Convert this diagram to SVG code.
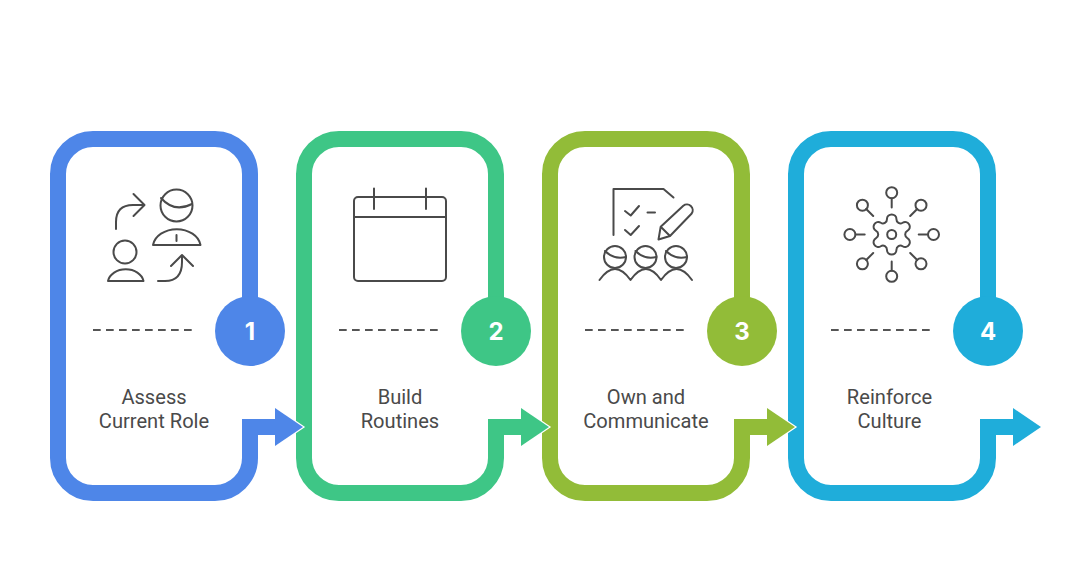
<svg xmlns="http://www.w3.org/2000/svg" width="1077" height="566" viewBox="0 0 1077 566">
<style>
.frame{fill:none;stroke-width:16;stroke-linejoin:miter}
.dash{fill:none;stroke:#555;stroke-width:2;stroke-dasharray:7.7 5.3}
.ic{fill:none;stroke:#4a4a4a;stroke-width:2;stroke-linecap:round;stroke-linejoin:round}
.lab{font-family:Roboto,"Liberation Sans",sans-serif;font-size:20.1px;fill:#4a4a4a;text-anchor:middle}
.num{font-family:Inter,"Liberation Sans",sans-serif;font-size:24px;font-weight:700;fill:#fff;text-anchor:middle}
.head{stroke:#fff;stroke-width:2.4;stroke-linejoin:miter;paint-order:stroke}
.stem{fill:none;stroke-width:16;stroke-linejoin:miter}
.blue{stroke:#4e86e8}.bluef{fill:#4e86e8}
.green{stroke:#3ec686}.greenf{fill:#3ec686}
.olive{stroke:#92bc38}.olivef{fill:#92bc38}
.cyan{stroke:#1fadda}.cyanf{fill:#1fadda}
</style>
<defs>
<path id="fr" d="M250 300V174A35 35 0 0 0 215 139H93A35 35 0 0 0 58 174V458A35 35 0 0 0 93 493H215A35 35 0 0 0 250 458V427"/>
<path id="gear" d="M-4.750 -15.320A4.750 4.750 0 1 1 4.750 -15.320A4 4 0 0 0 10.890 -11.770A4.750 4.750 0 1 1 15.640 -3.550A4 4 0 0 0 15.640 3.550A4.750 4.750 0 1 1 10.890 11.770A4 4 0 0 0 4.750 15.320A4.750 4.750 0 1 1 -4.750 15.320A4 4 0 0 0 -10.890 11.770A4.750 4.750 0 1 1 -15.640 3.550A4 4 0 0 0 -15.640 -3.550A4.750 4.750 0 1 1 -10.890 -11.770A4 4 0 0 0 -4.750 -15.320Z"/>
</defs>

<g id="node-1">
<use href="#fr" class="frame blue"/>
<circle cx="250" cy="331" r="35" class="bluef"/>
<text x="250" y="339.500" class="num">1</text>
<path d="M93 330H192" class="dash"/>
<text x="154" y="404" class="lab">Assess</text>
<text x="154" y="428" class="lab">Current Role</text>
<g class="ic">
<circle cx="176.500" cy="205.500" r="16"/>
<path d="M161 198Q174 213 192 204"/>
<path d="M153 245A24 18.500 0 0 1 200.500 245Z"/>
<path d="M176.500 235V241"/>
<circle cx="125" cy="252" r="11.500"/>
<path d="M108 281A18 14 0 0 1 143.500 281Z"/>
<path d="M116 229V222Q116 205 133 205H144M133.500 194L144.500 205L133.500 216"/>
<path d="M158 281H165Q182 281 182 262V255M171 266L182 255L193 266"/>
</g>
</g>

<g id="node-2">
<use href="#fr" transform="translate(246 0)" class="frame green"/>
<circle cx="496" cy="331" r="35" class="greenf"/>
<text x="496" y="339.500" class="num">2</text>
<path d="M339 330H438" class="dash"/>
<text x="400" y="404" class="lab">Build</text>
<text x="400" y="428" class="lab">Routines</text>
<g class="ic">
<rect x="354" y="197" width="92" height="84" rx="4"/>
<path d="M354 217H446M374 188.500V209M426 188.500V209"/>
</g>
</g>

<g id="node-3">
<use href="#fr" transform="translate(492 0)" class="frame olive"/>
<circle cx="742" cy="331" r="35" class="olivef"/>
<text x="742" y="339.500" class="num">3</text>
<path d="M585 330H684" class="dash"/>
<text x="646" y="404" class="lab">Own and</text>
<text x="646" y="428" class="lab">Communicate</text>
<g class="ic">
<path d="M613.500 235V189H663.500L673.500 197.500"/>
<path d="M625 211L630.700 215.500L639 206M647.500 212.500H655M625 230L630.700 235L639 226"/>
<path d="M658.500 239.500L660.700 226.700L683.300 205.700A5.800 5.800 0 0 1 691.700 213.500L670 236ZM660.700 226.700L670 236"/>
<circle cx="615" cy="257" r="11"/><circle cx="645.500" cy="257" r="11"/><circle cx="676" cy="257" r="11"/>
<path d="M605 251Q614 260 626 257M635.500 251Q644.500 260 656.500 257M666 251Q675 260 687 257"/>
<path d="M599.500 280Q615 258 630.500 280Q646 258 661 280Q676.500 258 692 280"/>
</g>
</g>

<g id="node-4">
<use href="#fr" transform="translate(738 0)" class="frame cyan"/>
<circle cx="988" cy="331" r="35" class="cyanf"/>
<text x="988" y="339.500" class="num">4</text>
<path d="M831 330H930" class="dash"/>
<text x="889.500" y="404" class="lab">Reinforce</text>
<text x="889.500" y="428" class="lab">Culture</text>
<g class="ic" transform="translate(891.700 234.500)">
<use href="#gear"/>
<circle r="4.500"/>
<circle cy="-41.800" r="5.500"/><circle cy="41.800" r="5.500"/><circle cx="-41.800" r="5.500"/><circle cx="41.800" r="5.500"/>
<circle cx="29.300" cy="-29.300" r="5.500"/><circle cx="-29.300" cy="-29.300" r="5.500"/><circle cx="29.300" cy="29.300" r="5.500"/><circle cx="-29.300" cy="29.300" r="5.500"/>
<path d="M0 -36V-27M0 36V27M-36 0H-27M36 0H27M25.500 -25.500L18.500 -18.500M-25.500 -25.500L-18.500 -18.500M25.500 25.500L18.500 18.500M-25.500 25.500L-18.500 18.500"/>
</g>
</g>

<g id="connectors">
<g id="conn-1"><polygon points="275,408 303,427 275,446" class="head bluef"/><path d="M250 440V427H280" class="stem blue"/></g>
<g id="conn-2"><polygon points="521,408 549,427 521,446" class="head greenf"/><path d="M496 440V427H526" class="stem green"/></g>
<g id="conn-3"><polygon points="767,408 795,427 767,446" class="head olivef"/><path d="M742 440V427H772" class="stem olive"/></g>
<g id="conn-4"><polygon points="1013,408 1041,427 1013,446" class="head cyanf"/><path d="M988 440V427H1018" class="stem cyan"/></g>
</g>
</svg>
